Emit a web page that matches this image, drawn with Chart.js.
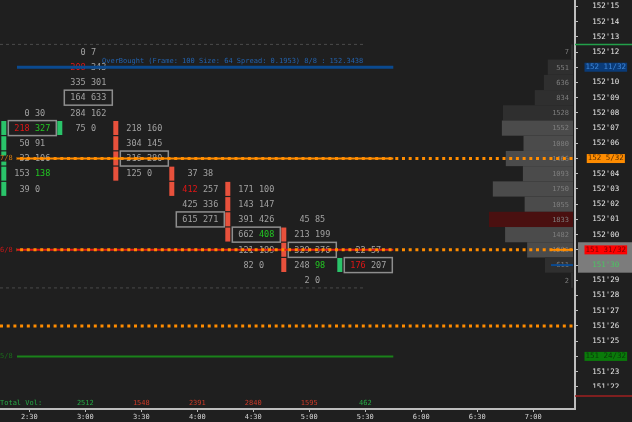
<!DOCTYPE html>
<html><head><meta charset="utf-8">
<script src="https://cdn.jsdelivr.net/npm/chart.js@4/dist/chart.umd.min.js"></script>
<style>html,body{margin:0;padding:0;background:#1f1f1f;overflow:hidden}#wrap{width:632px;height:422px}</style>
</head><body><div id="wrap"><canvas id="c" width="632" height="422"></canvas></div>
<script>
// ---------- data ----------
const columnTimes = ['2:30','3:00','3:30','4:00','4:30','5:00','5:30'];
const columnTopPrices = ["152'08","152'12","152'07","152'04","152'03","152'01","151'31"];
const bidVolumes = [
  [0,218,50,32,153,39],
  [0,208,335,164,284,75],
  [218,304,316,125],
  [37,412,425,615],
  [171,143,391,662,121,82],
  [45,213,329,248,2],
  [22,176]
];
const askVolumes = [
  [30,327,91,106,138,0],
  [7,343,301,633,162,0],
  [160,145,280,0],
  [38,257,336,271],
  [100,147,426,408,189,0],
  [85,199,376,98,0],
  [57,207]
];
const pocRows = [1,3,2,3,3,2,1];
const bidImbalanceCells = [[0,1],[1,1],[3,1],[6,1]];
const askImbalanceCells = [[0,1],[0,4],[4,3],[5,3]];
const candleHighs = ["152'07","152'07","152'07","152'04","152'03","152'00","151'30"];
const candleLows  = ["152'03","152'07","152'04","152'03","152'00","151'30","151'30"];
const candleUp    = [true,true,false,false,false,false,true];

const profilePrices = ["152'12","152'11","152'10","152'09","152'08","152'07","152'06","152'05",
                       "152'04","152'03","152'02","152'01","152'00","151'31","151'30","151'29"];
const profileVolumes = [7,551,636,834,1528,1552,1080,1466,1093,1750,1055,1833,1482,1001,611,2];
const valueArea = ["152'07","151'31"];

const axisTimes = ['2:30','3:00','3:30','4:00','4:30','5:00','5:30','6:00','6:30','7:00'];
const axisPriceRange = ["151'22","152'15"];

const levelLabels = ['8/8','7/8','6/8','5/8'];
const levelPrices = ["152'11","152'05","151'31","151'24"];
const dottedPrices = ["152'05","151'31","151'26"];
const badgePrices = ["152'11","152'05","151'31","151'24"];
const lastPrice = "151'30";
const overBoughtText = "OverBought (Frame: 100 Size: 64 Spread: 0.1953) 8/8 : 152.3438";

// ---------- helpers ----------
function p32(s){ const a=s.split("'"); return (+a[0])*32 + (+a[1]); }
function fmt32(v){ const w=Math.floor(v/32), f=v-w*32; return w+"'"+String(f).padStart(2,'0'); }
function fmtBadge(v){ const w=Math.floor(v/32), f=v-w*32; return w+' '+f+'/32'; }
function toMin(t){ const a=t.split(':'); return (+a[0])*60 + (+a[1]); }
function fmtMin(v){ const h=Math.floor(v/60), m=Math.round(v-h*60); return h+':'+String(m).padStart(2,'0'); }

// ---------- style ----------
const BG = '#1f1f1f';
const MONO = '"DejaVu Sans Mono", "Liberation Mono", monospace';
const levelColors = ['#0b4a8f','#ff8c00','#e41a1a','#1a821a'];
const levelLabelColors = ['#1d5aa0','#d07a10','#c41818','#1a6a1a'];
const badgeBg = {"152'11":'#0a3b78',"152'05":'#ff8c00',"151'31":'#ff0000',"151'24":'#0a7a0a'};
const badgeFg = {"152'11":'#3f86d8',"152'05":'#5a3000',"151'31":'#7a0000',"151'24":'#0a3a0a'};
const X_MIN = 134.3, X_MAX = 442.34;
const Y_MAX = 4879.417, Y_MIN = 4852.544;
const LEVEL_START = 143.4, LEVEL_END = toMin('5:45'), RANGE_END = toMin('5:30');

const badgeSet = badgePrices.map(p32);

// ---------- datasets ----------
const datasets = [];
const allHigh = Math.max(...columnTopPrices.map(p32));
const allLow = Math.min(...columnTopPrices.map((p,i)=>p32(p)-bidVolumes[i].length+1));
[allHigh+0.5, allLow-0.5].forEach(v=>{
  datasets.push({data:[{x:X_MIN,y:v},{x:RANGE_END,y:v}], borderColor:'#4a4a4a', borderWidth:1,
    borderDash:[3,3], pointRadius:0});
});
dottedPrices.forEach(p=>{
  datasets.push({data:[{x:X_MIN,y:p32(p)},{x:X_MAX,y:p32(p)}], borderColor:'#ff8c00', borderWidth:3,
    borderDash:[3,3.7], borderCapStyle:'butt', pointRadius:0});
});
levelPrices.forEach((p,i)=>{
  datasets.push({data:[{x:LEVEL_START,y:p32(p)},{x:LEVEL_END,y:p32(p)}], borderColor:levelColors[i],
    borderWidth: i===0?3:2, pointRadius:0});
});

// ---------- plugin ----------
const footprint = {
  id:'footprint',
  beforeDraw(chart){
    const {ctx, scales:{y}, chartArea:ca} = chart;
    ctx.save();
    ctx.fillStyle = BG; ctx.fillRect(0,0,chart.width,chart.height);
    const lp = p32(lastPrice);
    const t = y.getPixelForValue(lp+1.5), b = y.getPixelForValue(lp-0.5);
    ctx.fillStyle = '#7c7c7c';
    ctx.fillRect(ca.right+3, t, chart.width-ca.right-3, b-t);
    ctx.restore();
  },
  beforeDatasetsDraw(chart){
    const {ctx, scales:{x,y}, chartArea:ca} = chart;
    ctx.save();
    const maxV = Math.max(...profileVolumes);
    const vaHi = p32(valueArea[0]), vaLo = p32(valueArea[1]);
    ctx.font = '7px '+MONO; ctx.textBaseline='middle'; ctx.textAlign='right';
    profilePrices.forEach((ps,i)=>{
      const p = p32(ps), v = profileVolumes[i];
      const t = y.getPixelForValue(p+0.5), b = y.getPixelForValue(p-0.5);
      const w = Math.max(2, v/maxV*84);
      const r = ca.right-2;
      let col = (p<=vaHi && p>=vaLo) ? '#4b4b4b' : '#2f2f2f';
      if (v===maxV) col = '#4a1010';
      ctx.fillStyle = col; ctx.fillRect(r-w, t, w, b-t);
      ctx.fillStyle = '#7e7e7e';
      ctx.fillText(String(v), r-4, y.getPixelForValue(p)+0.5);
    });
    const bidSet = new Set(bidImbalanceCells.map(a=>a.join(',')));
    const askSet = new Set(askImbalanceCells.map(a=>a.join(',')));
    columnTimes.forEach((tm,c)=>{
      const tx = x.getPixelForValue(toMin(tm));
      const cx = tx + 3;
      const top = p32(columnTopPrices[c]);
      ctx.fillStyle = candleUp[c] ? '#2ac46a' : '#e8513c';
      for (let p=p32(candleHighs[c]); p>=p32(candleLows[c]); p--){
        const t = y.getPixelForValue(p+0.5), b = y.getPixelForValue(p-0.5);
        ctx.fillRect(cx-31, t+0.5, 5, b-t-1.2);
      }
      ctx.font = '8.5px '+MONO; ctx.textBaseline='middle';
      bidVolumes[c].forEach((bv,r)=>{
        const yy = y.getPixelForValue(top-r)+0.5;
        ctx.textAlign='right';
        ctx.fillStyle = bidSet.has(c+','+r) ? '#e01616' : '#a2a2a2';
        ctx.fillText(String(bv), cx-2.6, yy);
        ctx.textAlign='left';
        ctx.fillStyle = askSet.has(c+','+r) ? '#22c722' : '#a2a2a2';
        ctx.fillText(String(askVolumes[c][r]), cx+2.6, yy);
      });
      const py = y.getPixelForValue(top-pocRows[c]);
      ctx.strokeStyle = '#8e8e8e'; ctx.lineWidth = 1.5;
      ctx.strokeRect(cx-24, py-7.5, 48, 15);
      const bids = bidVolumes[c].reduce((a,b)=>a+b,0), asks = askVolumes[c].reduce((a,b)=>a+b,0);
      ctx.font = '7px '+MONO; ctx.textAlign='center';
      ctx.fillStyle = asks>bids ? '#26a845' : '#cc3a28';
      ctx.fillText(String(bids+asks), tx, ca.bottom-6);
    });
    ctx.fillStyle = BG; ctx.fillRect(0, ca.bottom-11, 44, 10);
    ctx.fillStyle = '#26a845'; ctx.textAlign='left'; ctx.font='7px '+MONO;
    ctx.fillText('Total Vol:', 0, ca.bottom-6);
    ctx.restore();
  },
  afterDatasetsDraw(chart){
    const {ctx, scales:{x,y}, chartArea:ca} = chart;
    ctx.save();
    ctx.font = '7px '+MONO; ctx.textBaseline='middle'; ctx.textAlign='left';
    levelPrices.forEach((p,i)=>{
      if (i===0) return;
      const ly = y.getPixelForValue(p32(p));
      ctx.fillStyle = BG; ctx.fillRect(0, ly-3, 16, 6);
      ctx.fillStyle = levelLabelColors[i];
      ctx.fillText(levelLabels[i], 0, ly);
    });
    ctx.fillStyle = '#2262ae';
    ctx.fillText(overBoughtText, 102, y.getPixelForValue(p32(levelPrices[0]))-6);
    const r = ca.right-2;
    ctx.lineWidth = 2;
    ctx.strokeStyle = '#ff8c00';
    let yy = y.getPixelForValue(p32(levelPrices[2]));
    ctx.beginPath(); ctx.moveTo(r-22,yy); ctx.lineTo(r,yy); ctx.stroke();
    ctx.strokeStyle = '#0b4a8f';
    yy = y.getPixelForValue(p32(lastPrice));
    ctx.beginPath(); ctx.moveTo(r-22,yy); ctx.lineTo(r,yy); ctx.stroke();
    ctx.restore();
  },
  afterDraw(chart){
    const {ctx, scales:{y}, chartArea:ca} = chart;
    ctx.save();
    const lowP = p32(axisPriceRange[0]);
    const cut = y.getPixelForValue(lowP)+1;
    ctx.fillStyle = BG; ctx.fillRect(ca.right+2, cut, chart.width-ca.right, ca.bottom-cut);
    ctx.lineWidth = 1.5;
    ctx.strokeStyle = '#a02020';
    const ry = y.getPixelForValue(lowP-0.6);
    ctx.beginPath(); ctx.moveTo(ca.right, ry); ctx.lineTo(chart.width, ry); ctx.stroke();
    ctx.strokeStyle = '#22a04a';
    const gy = y.getPixelForValue(allHigh+0.5);
    ctx.beginPath(); ctx.moveTo(ca.right, gy); ctx.lineTo(chart.width, gy); ctx.stroke();
    ctx.restore();
  }
};

new Chart(document.getElementById('c'), {
  type:'line',
  data:{datasets},
  options:{
    responsive:false, animation:false,
    layout:{padding:0},
    plugins:{legend:{display:false}, tooltip:{enabled:false}},
    elements:{line:{tension:0}},
    scales:{
      x:{type:'linear', position:'bottom', min:X_MIN, max:X_MAX,
        grid:{drawOnChartArea:false, drawTicks:true, tickLength:3, color:'#bdbdbd'},
        border:{display:true, color:'#bdbdbd', width:2},
        ticks:{color:'#d6d6d6', font:{family:MONO, size:7}, padding:1, maxRotation:0, autoSkip:false,
          callback:v=>fmtMin(v)},
        afterBuildTicks:s=>{ s.ticks = axisTimes.map(t=>({value:toMin(t)})); },
        afterFit:s=>{ s.height = 13; s.paddingLeft = 0; s.paddingRight = 0; s.paddingTop = 0; s.paddingBottom = 0; }
      },
      y:{type:'linear', position:'right', min:Y_MIN, max:Y_MAX,
        grid:{drawOnChartArea:false, drawTicks:true, tickLength:3, color:'#bdbdbd'},
        border:{display:true, color:'#bdbdbd', width:2},
        ticks:{crossAlign:'center', padding:7.5, autoSkip:false,
          font:{family:MONO, size:7.5},
          color:ctx=>{ const v=ctx.tick.value; const s=fmt32(v);
            if (badgeFg[s]) return badgeFg[s];
            if (s===lastPrice) return '#4cc462';
            return '#e6e6e6'; },
          showLabelBackdrop:ctx=>badgeSet.includes(ctx.tick.value),
          backdropColor:ctx=>badgeBg[fmt32(ctx.tick.value)]||'rgba(0,0,0,0)',
          backdropPadding:{top:0,bottom:0,left:1,right:1},
          callback:v=>badgeSet.includes(v) ? fmtBadge(v) : fmt32(v)},
        afterBuildTicks:s=>{ const a=[]; for(let v=p32(axisPriceRange[0]); v<=p32(axisPriceRange[1]); v++) a.push({value:v}); s.ticks=a; },
        afterFit:s=>{ s.width = 57; s.paddingTop = 0; s.paddingBottom = 0; s.paddingLeft = 0; s.paddingRight = 0; }
      }
    }
  },
  plugins:[footprint]
});
</script></body></html>
